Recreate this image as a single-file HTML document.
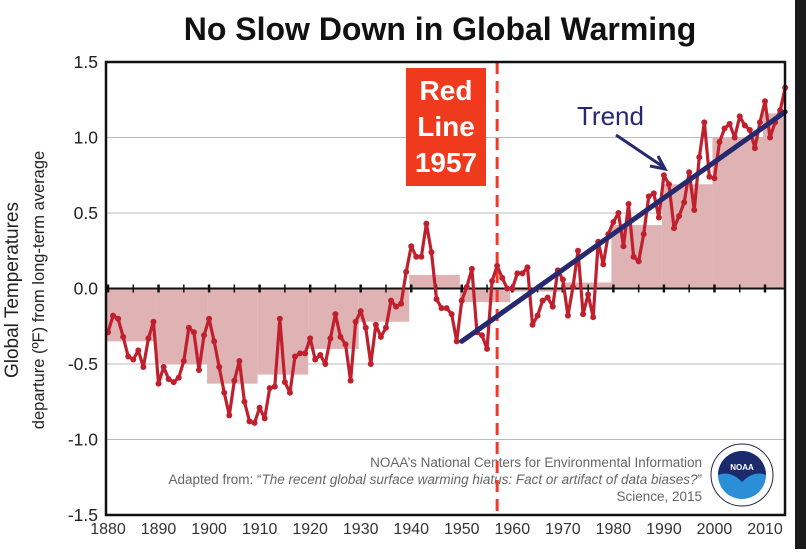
<!DOCTYPE html>
<html><head><meta charset="utf-8"><style>
body{margin:0;background:#fff;width:806px;height:549px;overflow:hidden;font-family:"Liberation Sans",sans-serif}
</style></head><body>
<svg id="chart" width="806" height="549" viewBox="0 0 806 549" xmlns="http://www.w3.org/2000/svg" font-family="Liberation Sans, sans-serif">
<rect x="795" y="0" width="11" height="549" fill="#1a1a1a"/>
<text x="440" y="40" text-anchor="middle" font-size="32" font-weight="bold" fill="#111">No Slow Down in Global Warming</text>
<g id="plot"></g>
</svg>
<script>
const years = [];
for (let y = 1880; y <= 2014; y++) years.push(y);
const anomalies = [
-0.29,-0.18,-0.2,-0.32,-0.45,-0.47,-0.41,-0.52,-0.33,-0.22,
-0.63,-0.52,-0.6,-0.62,-0.59,-0.48,-0.26,-0.29,-0.54,-0.31,
-0.2,-0.35,-0.52,-0.69,-0.84,-0.61,-0.48,-0.75,-0.88,-0.89,
-0.79,-0.86,-0.66,-0.65,-0.2,-0.62,-0.69,
-0.45,-0.43,-0.43,-0.33,-0.47,-0.44,-0.5,-0.33,-0.17,-0.32,-0.37,-0.61,-0.22,
-0.15,-0.26,-0.5,-0.24,-0.32,-0.26,-0.08,-0.12,-0.1,0.11,
0.28,0.21,0.21,0.43,0.24,-0.07,-0.13,-0.13,-0.17,-0.35,
-0.08,0.01,0.13,-0.29,-0.31,-0.4,0.05,0.15,0.07,0.0,
0.0,0.1,0.1,0.14,-0.24,-0.18,-0.08,-0.06,-0.12,0.12,
0.06,-0.18,0.01,0.25,-0.17,-0.04,-0.19,0.31,0.16,0.36,
0.44,0.5,0.28,0.56,0.21,0.18,0.36,0.61,0.63,0.47,
0.75,0.69,0.4,0.48,0.57,0.77,0.52,0.87,1.1,0.74,
0.73,0.97,1.06,1.09,1.0,1.14,1.08,1.05,0.93,1.1,
1.24,1.0,1.1,1.18,1.33];
const decades = [1880,1890,1900,1910,1920,1930,1940,1950,1960,1970,1980,1990,2000,2010];
const decadeMeans = [-0.35,-0.5,-0.63,-0.57,-0.4,-0.22,0.09,-0.09,-0.02,0.04,0.42,0.69,1.0,1.16];
const trendYears = [1950, 2014];
const trendValues = [-0.35, 1.17];
const yTicks = [1.5,1.0,0.5,0.0,-0.5,-1.0,-1.5];
const yTickLabels = ["1.5","1.0","0.5","0.0","-0.5","-1.0","-1.5"];
const xTicks = [1880,1890,1900,1910,1920,1930,1940,1950,1960,1970,1980,1990,2000,2010];

const L=106,R=785,T=62,B=515;
const xs = yr => 108 + (yr-1880)*(765-108)/130;
const ys = v => 288.5 - v*151;
const NS="http://www.w3.org/2000/svg";
const g=document.getElementById('plot');
function el(tag,attrs,parent){const e=document.createElementNS(NS,tag);for(const k in attrs)e.setAttribute(k,attrs[k]);(parent||g).appendChild(e);return e;}

yTicks.forEach((t,i)=>{
  if(t!==0 && Math.abs(t)!==1.5){const ln=el('line',{x1:L,x2:R,y1:ys(t),y2:ys(t),stroke:'#bbb','stroke-width':1});
  
  }
  const tx=el('text',{x:L-8,y:ys(t)+6,'text-anchor':'end','font-size':17.5,fill:'#222'});tx.textContent=yTickLabels[i];
  
  
});
decades.forEach((d,i)=>{
  const x0=Math.max(L,xs(d)-2),x1=Math.min(R,xs(d+10)-2);const v=decadeMeans[i];
  const r=el('rect',{x:x0,y:Math.min(ys(0),ys(v)),width:x1-x0,height:Math.abs(ys(v)-ys(0)),fill:'#dfb3b3'});
  
  
});
const z=el('line',{x1:L,x2:R,y1:ys(0),y2:ys(0),stroke:'#111','stroke-width':2});


for(let yr=1880;yr<=2014;yr+=5){const tk=el('line',{x1:xs(yr),x2:xs(yr),y1:ys(0)-4,y2:ys(0)+4,stroke:'#111','stroke-width':yr%10?1.5:2.5});

}
const fb=el('rect',{x:L+2,y:447,width:R-L-4,height:B-449,fill:'#fff'});


const credits=[["NOAA’s National Centers for Environmental Information",467,false],["Adapted from: “The recent global surface warming hiatus: Fact or artifact of data biases?”",484,true],["Science, 2015",501,false]];
credits.forEach(c=>{const t=el('text',{x:702,y:c[1],'text-anchor':'end','font-size':13.5,fill:'#666'});t.textContent=c[0];if(c[2]){t.textContent='';const a=el('tspan',{},t);a.textContent='Adapted from: “';const b=el('tspan',{'font-style':'italic'},t);b.textContent='The recent global surface warming hiatus: Fact or artifact of data biases?';const e2=el('tspan',{},t);e2.textContent='”';}

});
const lg=el('g',{});


el('circle',{cx:742,cy:475,r:31,fill:'#fff',stroke:'#224',"stroke-width":1},lg);
el('circle',{cx:742,cy:475,r:24,fill:'#2a8fd6'},lg);
el('path',{d:'M718,475 A24,24 0 0 1 766,475 Q754,470 742,482 Q730,470 718,475 Z',fill:'#1a2a6c'},lg);
const nt=el('text',{x:742,y:470,'text-anchor':'middle','font-size':8,'font-weight':'bold',fill:'#fff'},lg);nt.textContent='NOAA';
const rl=el('line',{x1:xs(1957),x2:xs(1957),y1:T,y2:B,stroke:'#f03a2a','stroke-width':3,'stroke-dasharray':'12,7'});


const pts=years.map((y,i)=>xs(y)+','+ys(anomalies[i])).join(' ');
const pl=el('polyline',{points:pts,fill:'none',stroke:'#c0202e','stroke-width':3.2,'stroke-linejoin':'round'});


years.forEach((y,i)=>{const c=el('circle',{cx:xs(y),cy:ys(anomalies[i]),r:3,fill:'#c0202e'});

});
const tr=el('line',{x1:xs(trendYears[0]),y1:ys(trendValues[0]),x2:xs(trendYears[1]),y2:ys(trendValues[1]),stroke:'#26296e','stroke-width':5,'stroke-linecap':'round'});


const tt=el('text',{x:577,y:125,'font-size':26,fill:'#26296e'});tt.textContent='Trend';


const ar=el('path',{d:'M616,135 L662,166 M650,166 L665,169 L658,156',fill:'none',stroke:'#26296e','stroke-width':3});


const rb=el('rect',{x:406,y:68,width:80,height:118,fill:'#f03a1e'});


["Red","Line","1957"].forEach((s,i)=>{const t=el('text',{x:446,y:100+i*36,'text-anchor':'middle','font-size':28,'font-weight':'bold',fill:'#fff'});t.textContent=s;

});
const fr=el('rect',{x:L,y:T,width:R-L,height:B-T,fill:'none',stroke:'#111','stroke-width':2.5});


xTicks.forEach(yr=>{const t=el('text',{x:xs(yr),y:534,'text-anchor':'middle','font-size':16,fill:'#333'});t.textContent=yr;

});
const yt=el('text',{transform:'translate(18,290) rotate(-90)','text-anchor':'middle','font-size':19,fill:'#222'});yt.textContent='Global Temperatures';


const ys2=el('text',{transform:'translate(44,290) rotate(-90)','text-anchor':'middle','font-size':16.5,fill:'#222'});ys2.textContent='departure (ºF) from long-term average';


</script>
</body></html>
